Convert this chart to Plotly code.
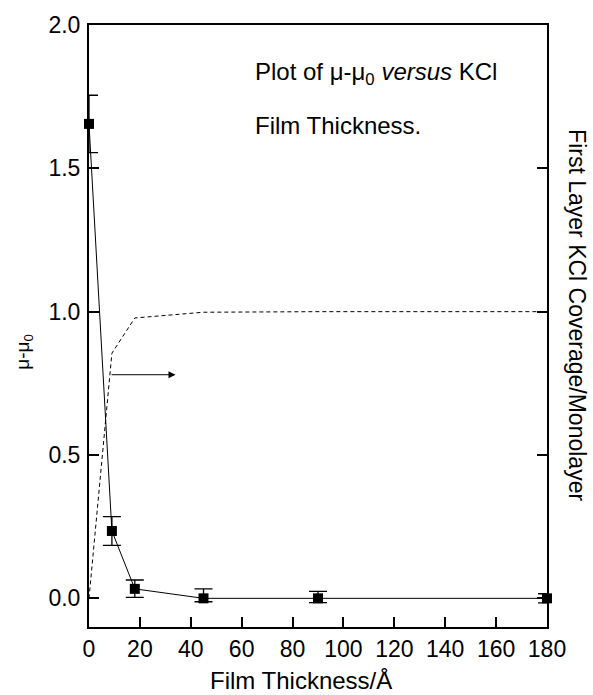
import plotly.graph_objects as go

thickness = [0, 9, 18, 45, 90, 180]
mu_diff = [1.655, 0.235, 0.033, 0.0, 0.0, 0.0]
err_plus = [0.10, 0.05, 0.031, 0.033, 0.024, 0.016]
err_minus = [0.10, 0.05, 0.03, 0.012, 0.015, 0.016]
coverage = [0.0, 0.855, 0.978, 0.998, 1.0, 1.0]
x_ticks = [0, 20, 40, 60, 80, 100, 120, 140, 160, 180]
y_ticks = [0.0, 0.5, 1.0, 1.5, 2.0]

FONT = "Liberation Sans, Arial, Helvetica, sans-serif"
L, R, T, B = 89, 46, 19, 68
PW = 593 - L - R
PH = 695 - T - B

fig = go.Figure()
fig.add_trace(go.Scatter(
    x=thickness, y=coverage, mode="lines",
    line=dict(color="black", width=1, dash="4px,3px"),
    showlegend=False, hoverinfo="skip"))
fig.add_trace(go.Scatter(
    x=thickness, y=mu_diff, mode="lines+markers",
    line=dict(color="black", width=1),
    marker=dict(symbol="square", size=10, color="black"),
    error_y=dict(type="data", symmetric=False, array=err_plus, arrayminus=err_minus,
                 color="black", thickness=1.3, width=9),
    showlegend=False, cliponaxis=False))

fig.update_layout(
    width=593, height=695,
    margin=dict(l=L, r=R, t=T, b=B),
    paper_bgcolor="white", plot_bgcolor="white",
    font=dict(family=FONT, color="black"),
    xaxis=dict(range=[0, 180], tickvals=x_ticks,
               ticks="inside", ticklen=10, tickwidth=1.5, tickcolor="black",
               showline=True, linecolor="black", linewidth=2, mirror=True,
               showgrid=False, zeroline=False,
               tickfont=dict(size=23, family=FONT)),
    yaxis=dict(range=[-0.1, 2.0], tickvals=y_ticks,
               ticktext=[f"{v:.1f}" for v in y_ticks],
               ticks="inside", ticklen=10, tickwidth=1.5, tickcolor="black",
               showline=True, linecolor="black", linewidth=2, mirror="ticks",
               showgrid=False, zeroline=False, ticklabelstandoff=2,
               tickfont=dict(size=23, family=FONT)),
)

# axis titles
fig.add_annotation(xref="paper", yref="paper", x=(301 - L) / PW, y=0,
                   yshift=-53, text="Film Thickness/Å", showarrow=False,
                   xanchor="center", yanchor="middle", font=dict(size=24, family=FONT))
fig.add_annotation(xref="paper", yref="paper", x=0, y=1 - (349 - T) / PH, xshift=-65,
                   text="μ-μ<sub>0</sub>", textangle=-90, showarrow=False,
                   xanchor="center", yanchor="middle", font=dict(size=19, family=FONT))
fig.add_annotation(xref="paper", yref="paper", x=1.0, y=1 - (312 - T) / PH, xshift=30,
                   text="First Layer KCl Coverage/Monolayer", textangle=90,
                   showarrow=False, xanchor="center", yanchor="middle",
                   font=dict(size=23, family=FONT))
# in-plot caption
fig.add_annotation(xref="paper", yref="paper", x=(253 - L) / PW, y=1 - (68 - T) / PH,
                   text="Plot of μ-μ<sub>0</sub> <i>versus</i> KCl",
                   showarrow=False, xanchor="left", yanchor="middle",
                   font=dict(size=24, family=FONT))
fig.add_annotation(xref="paper", yref="paper", x=(253 - L) / PW, y=1 - (120 - T) / PH,
                   text="Film Thickness.",
                   showarrow=False, xanchor="left", yanchor="middle",
                   font=dict(size=24, family=FONT))
# arrow pointing to the right-hand axis
fig.add_annotation(x=34, y=0.78, ax=8.3, ay=0.78, xref="x", yref="y",
                   axref="x", ayref="y", text="", showarrow=True,
                   arrowhead=2, arrowsize=1.4, arrowwidth=1, arrowcolor="black")

fig.write_html("out.html", config={"displayModeBar": False},
               post_script="document.body.style.margin='0';document.body.style.padding='0';")
